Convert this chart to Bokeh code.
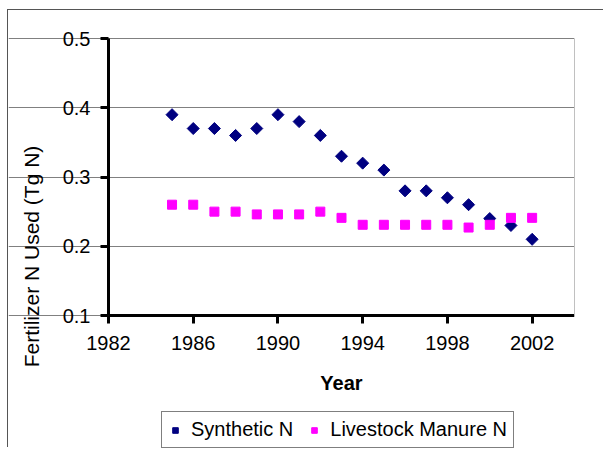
import math
from bokeh.plotting import figure
from bokeh.layouts import row, column
from bokeh.models import (Range1d, FixedTicker, Legend, LegendItem, ColumnDataSource,
                          Spacer, LinearAxis)
from bokeh.embed import file_html
from bokeh.resources import INLINE

years = [1985, 1986, 1987, 1988, 1989, 1990, 1991, 1992, 1993, 1994, 1995, 1996, 1997, 1998, 1999, 2000, 2001, 2002]
synthetic_n = [0.39, 0.37, 0.37, 0.36, 0.37, 0.39, 0.38, 0.36, 0.33, 0.32, 0.31, 0.28, 0.28, 0.27, 0.26, 0.24, 0.23, 0.21]
manure_n = [0.26, 0.26, 0.25, 0.25, 0.246, 0.246, 0.246, 0.25, 0.241, 0.231, 0.231, 0.231, 0.231, 0.231, 0.227, 0.231, 0.241, 0.241]
x_ticks = [1982, 1986, 1990, 1994, 1998, 2002]
x_end = 2004
y_ticks = [0.1, 0.2, 0.3, 0.4, 0.5]

FONT = "Liberation Sans"

# layout geometry (pixels, canvas coordinates)
W, H = 596, 438
BORDER_R = 30
PLOT_LEFT = 100              # left edge of the data area
PLOT_TOP = 28                # top edge of the data area
PLOT_W = W - BORDER_R - PLOT_LEFT
PLOT_H = 277                 # height of the data area (0.1 .. 0.5)
FRAME_W = W - BORDER_R
X_MIN, X_MAX = x_ticks[0], x_end
Y_MIN, Y_MAX = y_ticks[0], y_ticks[-1]
kx = (X_MAX - X_MIN) / PLOT_W
ky = (Y_MAX - Y_MIN) / PLOT_H
x_start = X_MAX - FRAME_W * kx
y_end = Y_MAX + PLOT_TOP * ky
y_start = Y_MAX - (H - PLOT_TOP) * ky

def px_to_y(py):  # canvas pixel row -> data value
    return Y_MAX - (py - PLOT_TOP) * ky

p = figure(width=W, height=H, output_backend="svg", toolbar_location=None,
           x_range=Range1d(x_start, X_MAX), y_range=Range1d(y_start, y_end),
           min_border_left=0, min_border_right=BORDER_R,
           min_border_top=0, min_border_bottom=0)
p.styles = {"border-top": "1px solid #555555", "border-left": "1px solid #555555"}

p.background_fill_color = "white"
p.border_fill_color = "white"
p.outline_line_color = None

p.xgrid.visible = False
p.ygrid.grid_line_color = "#808080"
p.ygrid.grid_line_width = 1
p.ygrid.ticker = FixedTicker(ticks=y_ticks)
p.ygrid.bounds = (X_MIN, X_MAX)

for ax in (p.xaxis[0], p.yaxis[0]):
    ax.axis_line_width = 3
    ax.axis_line_color = "black"
    ax.major_tick_line_width = 3
    ax.major_tick_line_color = "black"
    ax.major_tick_out = 8
    ax.major_tick_in = 0
    ax.minor_tick_line_color = None
    ax.major_label_text_font = FONT
    ax.major_label_text_font_size = "20px"
    ax.major_label_text_color = "black"
    ax.axis_label_text_font = FONT
    ax.axis_label_text_font_size = "20px"
    ax.axis_label_text_color = "black"

p.xaxis.ticker = FixedTicker(ticks=x_ticks)
p.xaxis.fixed_location = Y_MIN
p.xaxis.bounds = (X_MIN, X_MAX)
p.xaxis.major_label_standoff = 12
p.xaxis.axis_label = "Year"
p.xaxis.axis_label_text_font_style = "bold"
p.xaxis.axis_label_standoff = 19

p.yaxis.ticker = FixedTicker(ticks=y_ticks)
p.yaxis.fixed_location = X_MIN
p.yaxis.bounds = (Y_MIN, Y_MAX)
p.yaxis.formatter.use_scientific = False
p.yaxis.major_label_standoff = 10

# y-axis title (carried by a label-only axis so it can sit where the reference puts it)
title_axis = LinearAxis(bounds=(px_to_y(362), px_to_y(130)),
                        fixed_location=X_MIN,
                        axis_label="Fertilizer N Used (Tg N)",
                        axis_label_text_font=FONT, axis_label_text_font_size="21px",
                        axis_label_text_font_style="normal", axis_label_text_color="black",
                        axis_label_standoff=66, axis_line_color=None,
                        major_tick_line_color=None, minor_tick_line_color=None,
                        major_label_text_font_size="0px", major_label_standoff=0,
                        major_tick_out=0, major_tick_in=0,
                        ticker=FixedTicker(ticks=[]))
p.add_layout(title_axis, "left")

# right edge of the plot area
edge_axis = LinearAxis(bounds=(Y_MIN, Y_MAX), axis_line_color="#c0c0c0", axis_line_width=1,
                       major_tick_line_color=None, minor_tick_line_color=None,
                       major_label_text_font_size="0px", ticker=FixedTicker(ticks=[]))
p.add_layout(edge_axis, "right")

src1 = ColumnDataSource(dict(x=years, y=synthetic_n))
src2 = ColumnDataSource(dict(x=years, y=manure_n))

r1 = p.scatter("x", "y", source=src1, marker="square", angle=math.pi / 4, size=8.5,
               fill_color="#000080", line_color="#000080")
r2 = p.scatter("x", "y", source=src2, marker="square", size=9,
               fill_color="#FF00FF", line_color="#FF00FF")

legend = Legend(items=[LegendItem(label="Synthetic N", renderers=[r1]),
                       LegendItem(label="Livestock Manure N", renderers=[r2])],
                orientation="horizontal", location=(PLOT_LEFT + 53, 0))
legend.label_text_font = FONT
legend.label_text_font_size = "20px"
legend.label_text_color = "black"
legend.border_line_color = "black"
legend.border_line_width = 1
legend.background_fill_color = "white"
legend.background_fill_alpha = 1
legend.padding = 6
legend.spacing = 14
legend.glyph_width = 14
legend.glyph_height = 14
legend.label_standoff = 9
legend.margin = 0
p.add_layout(legend, "center")

layout = row(Spacer(width=7), column(Spacer(height=9), p))
open("out.html", "w").write(file_html(layout, INLINE))
